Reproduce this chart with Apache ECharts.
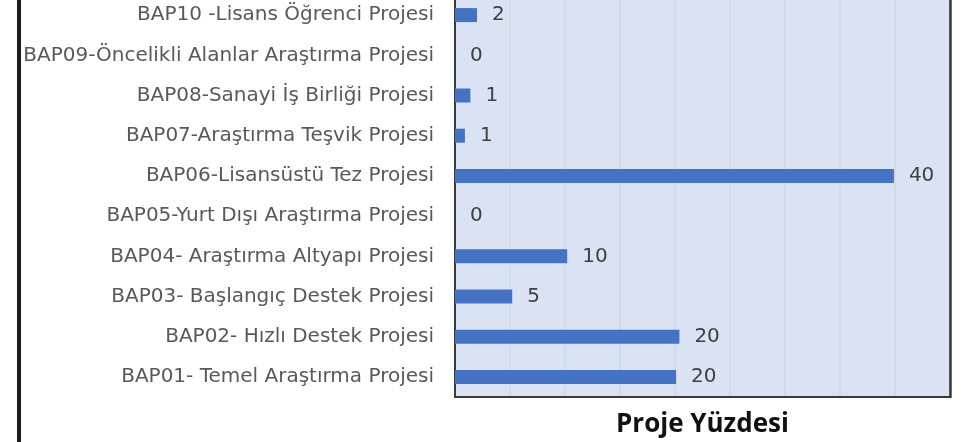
<!DOCTYPE html>
<html>
<head>
<meta charset="utf-8">
<script src="https://cdn.jsdelivr.net/npm/echarts@6/dist/echarts.min.js"></script>
<style>
html,body{margin:0;padding:0;background:#fff;}
#c{width:963px;height:442px;}
</style>
</head>
<body>
<div id="c"></div>
<script>
const categories = [
  'BAP01- Temel Araştırma Projesi',
  'BAP02- Hızlı Destek Projesi',
  'BAP03- Başlangıç Destek Projesi',
  'BAP04- Araştırma Altyapı Projesi',
  'BAP05-Yurt Dışı Araştırma Projesi',
  'BAP06-Lisansüstü Tez Projesi',
  'BAP07-Araştırma Teşvik Projesi',
  'BAP08-Sanayi İş Birliği Projesi',
  'BAP09-Öncelikli Alanlar Araştırma Projesi',
  'BAP10 -Lisans Öğrenci Projesi'
];
const values = [20.1, 20.4, 5.2, 10.2, 0, 39.9, 0.9, 1.4, 0, 2.0];
const axisTitle = 'Proje Yüzdesi';
const xMin = 0, xMax = 45, xStep = 5;

const chart = echarts.init(document.getElementById('c'), null, {renderer: 'canvas'});
chart.setOption({
  animation: false,
  backgroundColor: '#ffffff',
  textStyle: {fontFamily: '"DejaVu Sans", sans-serif'},
  graphic: [{
    type: 'rect',
    shape: {x: 17, y: 0, width: 4, height: 442},
    style: {fill: '#1c1c1c'}
  }],
  grid: {
    left: 455, right: 13, bottom: 45, height: 402,
    outerBoundsMode: 'none',
    containLabel: false,
    show: true,
    backgroundColor: '#DAE3F3',
    borderColor: '#3a3a3a',
    borderWidth: 2
  },
  xAxis: {
    type: 'value',
    min: xMin, max: xMax, interval: xStep,
    axisLabel: {show: false},
    axisTick: {show: false},
    axisLine: {show: true, lineStyle: {color: '#3a3a3a', width: 2}},
    splitLine: {show: true, lineStyle: {color: '#D2D6DE', width: 1.5}},
    name: axisTitle,
    nameLocation: 'middle',
    nameGap: 15,
    nameTextStyle: {color: '#111', fontSize: 26, fontWeight: 'bold', fontFamily: '"Open Sans", sans-serif'}
  },
  yAxis: [{
    type: 'category',
    data: categories,
    axisTick: {show: false},
    axisLine: {show: true, lineStyle: {color: '#3a3a3a', width: 2}},
    axisLabel: {color: '#595959', fontSize: 20, margin: 21, fontFamily: '"DejaVu Sans", sans-serif'},
    splitLine: {show: false}
  }, {
    type: 'category',
    data: categories,
    position: 'right',
    axisTick: {show: false},
    axisLabel: {show: false},
    axisLine: {show: true, lineStyle: {color: '#3a3a3a', width: 2.5}},
    splitLine: {show: false}
  }],
  series: [{
    type: 'bar',
    data: values,
    barWidth: 14,
    itemStyle: {color: '#4472C4'},
    label: {
      show: true,
      position: 'right',
      distance: 15,
      color: '#404040',
      fontSize: 20,
      fontFamily: '"DejaVu Sans", sans-serif',
      formatter: p => Math.round(p.value)
    }
  }]
});
</script>
</body>
</html>
